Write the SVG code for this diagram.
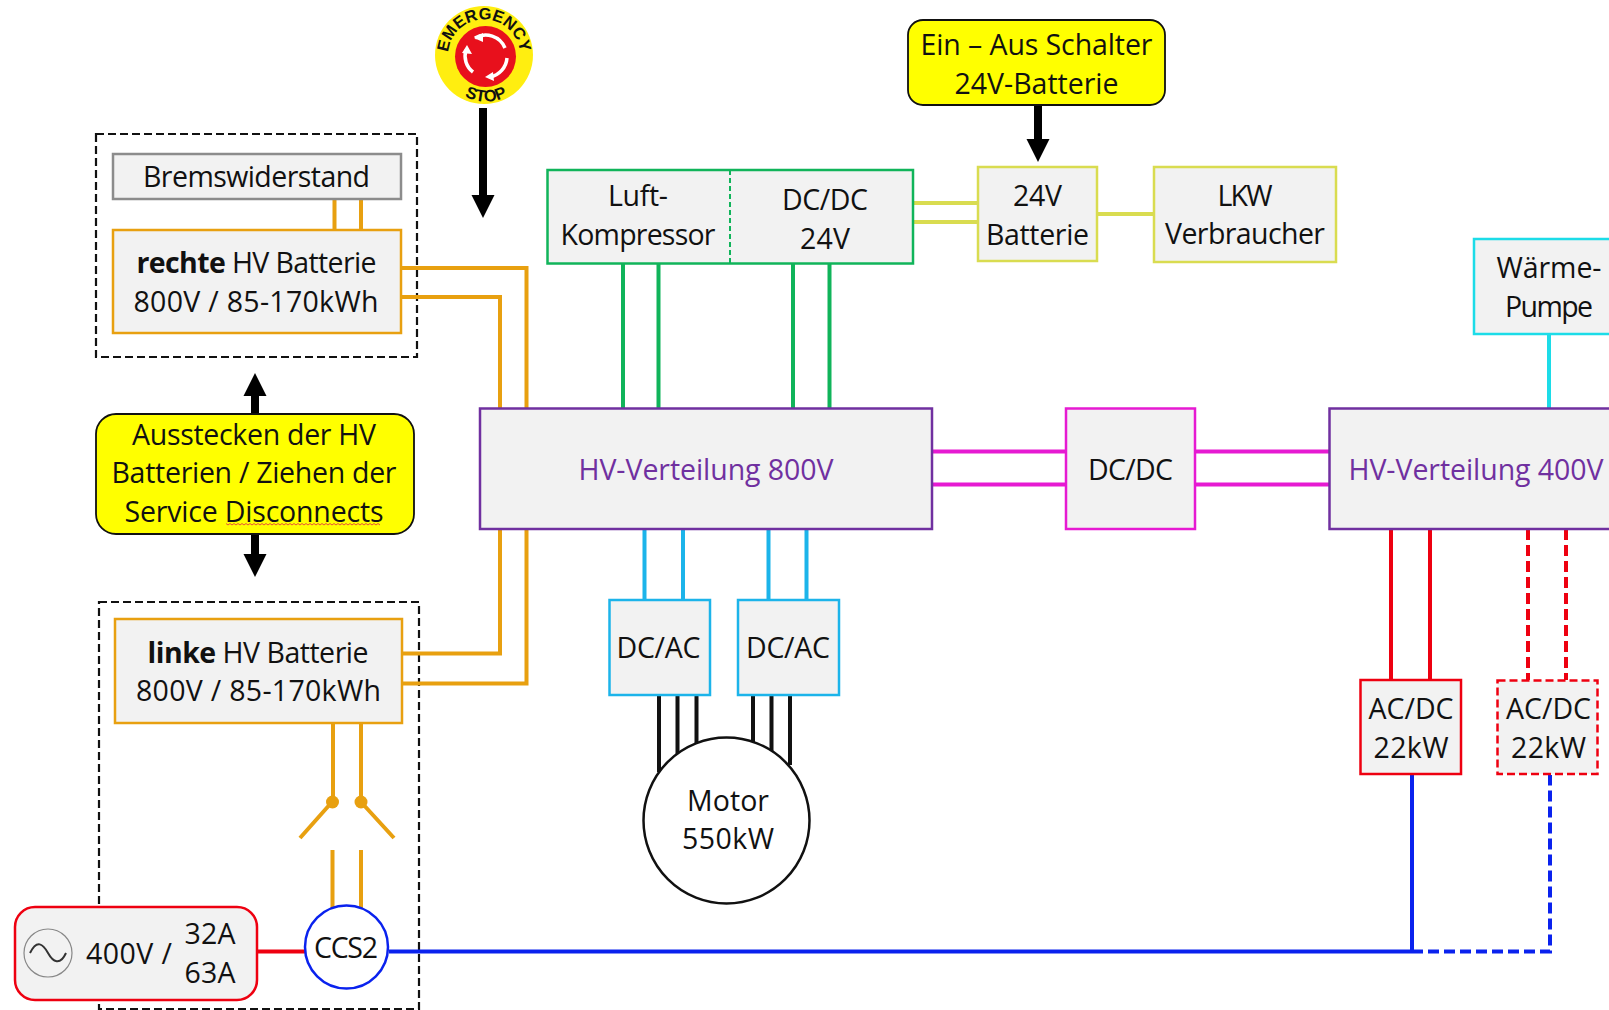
<svg xmlns="http://www.w3.org/2000/svg" width="1609" height="1010" viewBox="0 0 1609 1010">
<style>
text{font-family:"Open Sans","Noto Sans","Liberation Sans",sans-serif;font-size:28.500px;fill:#111;text-anchor:middle}
.t text{transform:translateY(.7px)}
.em{font-family:"Liberation Sans",sans-serif;font-size:16.500px;font-weight:700}
.b{fill:#f2f2f2;stroke-width:2.500}
.y{fill:#ffff00;stroke:#111;stroke-width:1.800}
.l{fill:none;stroke-width:4}
.or{stroke:#e8a010}.gr{stroke:#10b45a}.bl{stroke:#1cb4ea}.mg{stroke:#e61ad2}.re{stroke:#ee0010}.dk{stroke:#111}.ye{stroke:#d9dc50}.cy{stroke:#1cdce8}.ub{stroke:#0a22ee}
.d{stroke-dasharray:11 5}
.bx{fill:none;stroke:#111;stroke-width:2.200;stroke-dasharray:8 4}
.v{fill:#7030a0}
</style>
<defs>
<path id="ah" d="M-11.500 0H11.500L0 23Z" fill="#000"/>
<path id="ep1" d="M452 72A36 36 0 1 1 516 72"/>
<path id="ep2" d="M447 79A45 45 0 0 0 525 79"/>
</defs>

<g id="boxes-dashed">
<rect class="bx" x="96" y="134" width="321" height="223"/>
<rect class="bx" x="99" y="602" width="320" height="407"/>
</g>

<g id="connectors">
<path class="l or" d="M334.500 199V230M361 199V230"/>
<path class="l or" d="M401 268H526.500V408M401 297H500V408M402 653.500H500V529M402 683.500H526.500V529"/>
<path class="l or" d="M333 723V802M361 723V802M332.500 850V908M361 850V908M332 802L300 838M361 802L394 838"/>
<circle cx="332.500" cy="802" r="6.500" fill="#e8a010"/>
<circle cx="361" cy="802" r="6.500" fill="#e8a010"/>
<path class="l gr" d="M623 263V408M658.500 263V408M793 263V408M829.500 263V408"/>
<path class="l ye" d="M913 203H978M913 222H978M1097 214H1154"/>
<path class="l bl" d="M644.500 529V600M683 529V600M768.500 529V600M806.500 529V600"/>
<path class="l dk" d="M659 695V772M677.500 695V755M696.500 695V744M753 695V744M771.500 695V755M790 695V765"/>
<path class="l mg" d="M932 451.500H1066M932 484.500H1066M1195 451.500H1329M1195 484.500H1329"/>
<path class="l cy" d="M1549 334V408"/>
<path class="l re" d="M1391 529V680M1430 529V680M257 951.500H305"/>
<path class="l re d" d="M1528 529V680M1566 529V680"/>
<path class="l ub" d="M389 951.500H1412M1412 775V951.500"/>
<path class="l ub d" d="M1412 951.500H1550V775"/>
<g id="arrows">
<path d="M483 108V197" stroke="#000" stroke-width="8" fill="none"/><use href="#ah" x="483" y="195"/>
<path d="M1038 105V141" stroke="#000" stroke-width="8" fill="none"/><use href="#ah" x="1038" y="139"/>
<path d="M255 394V414" stroke="#000" stroke-width="8" fill="none"/><use href="#ah" transform="translate(255 396) rotate(180)"/>
<path d="M255 534V556" stroke="#000" stroke-width="8" fill="none"/><use href="#ah" x="255" y="554"/>
</g>
</g>

<g id="emergency-stop">
<circle cx="484" cy="55" r="49" fill="#ffee10"/>
<circle cx="485.500" cy="56.500" r="30.500" fill="#e8101c"/>
<g fill="none" stroke="#fff" stroke-width="3.500">
<path d="M473 72A20 20 0 0 1 466 50"/><path d="M475 38A21 21 0 0 1 505 48"/><path d="M507 58A21 21 0 0 1 490 77"/>
</g>
<path d="M467 45L472 54L462 53ZM474 38L483 33L483 42ZM485 77L493 72L494 81Z" fill="#fff"/>
<text class="em"><textPath href="#ep1" startOffset="50%">EMERGENCY</textPath></text>
<text class="em"><textPath href="#ep2" startOffset="50%">STOP</textPath></text>
</g>

<g class="t">
<g id="bremswiderstand"><rect class="b" stroke="#8c8c8c" x="113" y="154" width="288" height="45"/><text x="256.500" y="186" textLength="227">Bremswiderstand</text></g>
<g id="rechte-batterie"><rect class="b" stroke="#e8a010" x="113" y="230" width="288" height="103"/><text x="256.500" y="272" textLength="240"><tspan font-weight="700">rechte</tspan> HV Batterie</text><text x="256" y="311" textLength="245">800V / 85-170kWh</text></g>
<g id="service-note"><rect class="y" x="96" y="414" width="318" height="120" rx="20"/><text x="254" y="444" textLength="244">Ausstecken der HV</text><text x="254" y="482.500" textLength="285">Batterien / Ziehen der</text><text x="254" y="521" textLength="259">Service Disconnects</text>
<path d="M226 523.500l2 1.500 2-1.500 2 1.500 2-1.500 2 1.500 2-1.500 2 1.500 2-1.500 2 1.500 2-1.500 2 1.500 2-1.500 2 1.500 2-1.500 2 1.500 2-1.500 2 1.500 2-1.500 2 1.500 2-1.500 2 1.500 2-1.500 2 1.500 2-1.500 2 1.500 2-1.500 2 1.500 2-1.500 2 1.500 2-1.500 2 1.500 2-1.500 2 1.500 2-1.500 2 1.500 2-1.500 2 1.500 2-1.500 2 1.500 2-1.500 2 1.500 2-1.500 2 1.500 2-1.500 2 1.500 2-1.500 2 1.500 2-1.500 2 1.500 2-1.500 2 1.500 2-1.500 2 1.500 2-1.500 2 1.500 2-1.500 2 1.500 2-1.500 2 1.500 2-1.500 2 1.500 2-1.500 2 1.500 2-1.500 2 1.500 2-1.500 2 1.500 2-1.500 2 1.500 2-1.500 2 1.500 2-1.500 2 1.500 2-1.500 2 1.500 2-1.500 2 1.500" fill="none" stroke="#e8503a" stroke-width="1"/></g>
<g id="linke-batterie"><rect class="b" stroke="#e8a010" x="115" y="619" width="287" height="104"/><text x="258" y="662" textLength="221"><tspan font-weight="700">linke</tspan> HV Batterie</text><text x="258.500" y="700.500" textLength="245">800V / 85-170kWh</text></g>
<g id="ac-source"><rect x="15" y="907" width="242" height="93" rx="20" fill="#f2f2f2" stroke="#ee0010" stroke-width="2.500"/>
<circle cx="48" cy="953" r="24" fill="none" stroke="#888" stroke-width="1.200"/>
<path d="M30 953C37 939 43 944 48 953S60 966 66 953" fill="none" stroke="#333" stroke-width="2"/>
<text x="129" y="963" textLength="86">400V /</text><text x="210" y="943" textLength="51">32A</text><text x="210" y="982" textLength="51">63A</text></g>
<g id="ccs2"><circle cx="346.500" cy="947" r="41.500" fill="#fff" stroke="#0a22ee" stroke-width="2.500"/><text x="346" y="957" textLength="64">CCS2</text></g>
<g id="kompressor"><rect class="b" stroke="#10b45a" x="547.500" y="170" width="365.500" height="93.500"/><path d="M730 170V263" stroke="#10b45a" stroke-width="2" stroke-dasharray="5 3" fill="none"/><text x="638" y="205" textLength="60">Luft-</text><text x="638" y="244" textLength="155">Kompressor</text><text x="825" y="209.500" textLength="86">DC/DC</text><text x="825" y="248" textLength="50">24V</text></g>
<g id="batterie-24v"><rect class="b" stroke="#d9dc50" x="978" y="167" width="119" height="94"/><text x="1037.500" y="205" textLength="49">24V</text><text x="1037.500" y="244" textLength="103">Batterie</text></g>
<g id="lkw"><rect class="b" stroke="#d9dc50" x="1154" y="167" width="182" height="95"/><text x="1245" y="205" textLength="55">LKW</text><text x="1245" y="243.500" textLength="160">Verbraucher</text></g>
<g id="ein-aus"><rect class="y" x="908" y="20" width="257" height="85" rx="15"/><text x="1036.500" y="54" textLength="232">Ein – Aus Schalter</text><text x="1036.500" y="93" textLength="164">24V-Batterie</text></g>
<g id="waermepumpe"><rect class="b" stroke="#1cdce8" x="1474" y="239" width="140" height="95"/><text x="1549" y="277" textLength="105">Wärme-</text><text x="1549" y="316" textLength="88">Pumpe</text></g>
<g id="hv800"><rect class="b" stroke="#7030a0" x="480" y="408.500" width="452" height="120.500"/><text x="706" y="479" class="v" textLength="255">HV-Verteilung 800V</text></g>
<g id="dcdc"><rect class="b" stroke="#e61ad2" x="1066" y="408.500" width="129" height="120.500"/><text x="1130.500" y="479" textLength="85">DC/DC</text></g>
<g id="hv400"><rect class="b" stroke="#7030a0" x="1329.500" y="408.500" width="290" height="120.500"/><text x="1476" y="479" class="v" textLength="255">HV-Verteilung 400V</text></g>
<g id="dcac1"><rect class="b" stroke="#1cb4ea" x="609.500" y="600" width="100.500" height="95"/><text x="658.500" y="657" textLength="84">DC/AC</text></g>
<g id="dcac2"><rect class="b" stroke="#1cb4ea" x="738" y="600" width="101" height="95"/><text x="788" y="657" textLength="84">DC/AC</text></g>
<g id="motor"><circle cx="726.500" cy="820.500" r="83" fill="#fff" stroke="#111" stroke-width="2.500"/><text x="728" y="810" textLength="82">Motor</text><text x="728" y="848.500" textLength="92">550kW</text></g>
<g id="acdc1"><rect class="b" stroke="#ee0010" x="1360.500" y="680" width="100.500" height="94"/><text x="1411" y="718" textLength="85">AC/DC</text><text x="1411" y="757" textLength="75">22kW</text></g>
<g id="acdc2"><rect class="b" stroke="#ee0010" stroke-dasharray="8 4" x="1497.500" y="680.500" width="100" height="93.500"/><text x="1548.500" y="718" textLength="85">AC/DC</text><text x="1548.500" y="757" textLength="75">22kW</text></g>
</g>
</svg>
